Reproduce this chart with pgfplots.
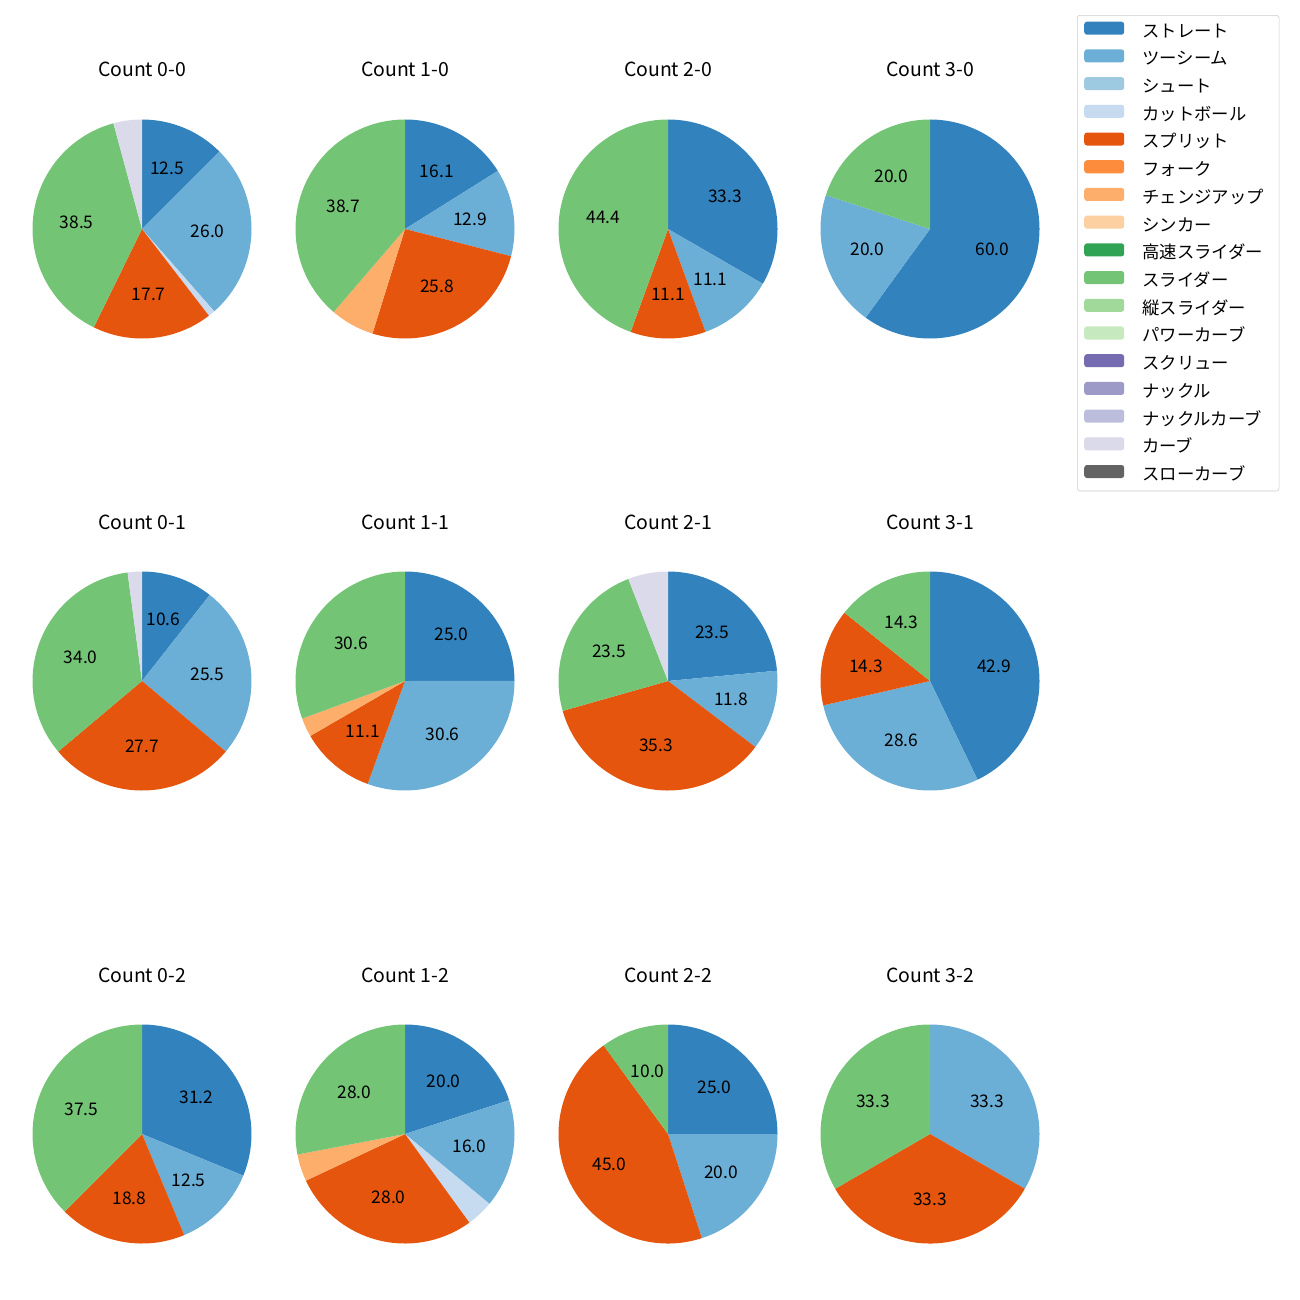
\documentclass[border=0pt]{standalone}
\usepackage{pgfplots}
\pgfplotsset{compat=1.18}
\usepackage{pgfplotstable}
\usepackage{fontspec}
\setmainfont{Noto Sans CJK JP}

% tab20c
\definecolor{c1}{HTML}{3182BD}
\definecolor{c2}{HTML}{6BAED6}
\definecolor{c3}{HTML}{9ECAE1}
\definecolor{c4}{HTML}{C6DBEF}
\definecolor{c5}{HTML}{E6550D}
\definecolor{c6}{HTML}{FD8D3C}
\definecolor{c7}{HTML}{FDAE6B}
\definecolor{c8}{HTML}{FDD0A2}
\definecolor{c9}{HTML}{31A354}
\definecolor{c10}{HTML}{74C476}
\definecolor{c11}{HTML}{A1D99B}
\definecolor{c12}{HTML}{C7E9C0}
\definecolor{c13}{HTML}{756BB1}
\definecolor{c14}{HTML}{9E9AC8}
\definecolor{c15}{HTML}{BCBDDC}
\definecolor{c16}{HTML}{DADAEB}
\definecolor{c17}{HTML}{636363}

% share (%) per count, rows 0-0 ... 3-2
\pgfplotstableread{
FF   TS   CT  SP   CH  SL   CU
12.5 26.0 1.0 17.7 0   38.5 4.2
16.1 12.9 0   25.8 6.5 38.7 0
33.3 11.1 0   11.1 0   44.4 0
60.0 20.0 0   0    0   20.0 0
10.6 25.5 0   27.7 0   34.0 2.1
25.0 30.6 0   11.1 2.8 30.6 0
23.5 11.8 0   35.3 0   23.5 5.9
42.9 28.6 0   14.3 0   14.3 0
31.2 12.5 0   18.8 0   37.5 0
20.0 16.0 4.0 28.0 4.0 28.0 0
25.0 20.0 0   45.0 0   10.0 0
0    33.3 0   33.3 0   33.3 0
}\counts

\def\pielist{FF/c1,TS/c2,CT/c4,SP/c5,CH/c7,SL/c10,CU/c16}

% #1 row, #2 centre x (px), #3 centre y (px), #4 title
\newcommand\pie[4]{%
\node[anchor=base, font=\fontsize{14pt}{16pt}\selectfont] at ({#2*0.72pt},{-(#3-152)*0.72pt}) {#4};
\begin{axis}[
  at={({#2*0.72pt},{-#3*0.72pt})}, anchor=center,
  scale only axis, width=157.68pt, height=157.68pt,
  xmin=-1, xmax=1, ymin=-1, ymax=1, hide axis]
\pgfplotsextra{
  \xdef\tot{0}
  \foreach \col/\c in \pielist {
    \pgfplotstablegetelem{#1}{\col}\of\counts
    \pgfmathsetmacro\n{\tot+\pgfplotsretval}\xdef\tot{\n}
  }
  \xdef\cum{0}
  \foreach \col/\c in \pielist {
    \pgfplotstablegetelem{#1}{\col}\of\counts
    \let\v\pgfplotsretval
    \pgfmathsetmacro\a{90-(\cum/\tot)*360}
    \pgfmathsetmacro\b{90-((\cum+\v)/\tot)*360}
    \ifdim\v pt>0pt
      \fill[\c] (axis cs:0,0) -- (axis cs:{cos(\a)},{sin(\a)})
        arc[start angle=\a, end angle=\b, radius=78.84pt] -- cycle;
    \fi
    \pgfmathsetmacro\n{\cum+\v}\xdef\cum{\n}
  }
  \xdef\cum{0}
  \foreach \col/\c in \pielist {
    \pgfplotstablegetelem{#1}{\col}\of\counts
    \let\v\pgfplotsretval
    \pgfmathsetmacro\m{90-((\cum+\v/2)/\tot)*360}
    \ifdim\v pt>9.9pt
      \node[font=\fontsize{12.5pt}{14pt}\selectfont] at (axis cs:{0.6*cos(\m)},{0.6*sin(\m)})
        {\pgfmathprintnumber[fixed,fixed zerofill,precision=1,assume math mode=true]{\v}};
    \fi
    \pgfmathsetmacro\n{\cum+\v}\xdef\cum{\n}
  }
}
\end{axis}
}

\begin{document}
\begin{tikzpicture}
\path[use as bounding box] (0,0) rectangle (936pt,-936pt);

\pie{0}{142}{229}{Count 0-0}
\pie{1}{405}{229}{Count 1-0}
\pie{2}{668}{229}{Count 2-0}
\pie{3}{930}{229}{Count 3-0}
\pie{4}{142}{681}{Count 0-1}
\pie{5}{405}{681}{Count 1-1}
\pie{6}{668}{681}{Count 2-1}
\pie{7}{930}{681}{Count 3-1}
\pie{8}{142}{1134}{Count 0-2}
\pie{9}{405}{1134}{Count 1-2}
\pie{10}{668}{1134}{Count 2-2}
\pie{11}{930}{1134}{Count 3-2}

% legend
\begin{axis}[
  at={({1077*0.72pt},{-15*0.72pt})}, anchor=north west,
  scale only axis, width=10pt, height=10pt,
  xmin=0, xmax=1, ymin=0, ymax=1, hide axis,
  legend image code/.code={\fill[#1, draw=none] (0pt,-1.3pt) rectangle (28.8pt,8.1pt);},
  legend cell align=left,
  legend style={at={(0,1)}, anchor=north west, draw=black!20, rounded corners=2pt,
    fill=white, inner xsep=5pt, inner ysep=4.6pt, row sep=5.85pt, column sep=7pt,
    font=\fontsize{12.5pt}{14pt}\selectfont,
    nodes={inner sep=0pt, text height=9pt, text depth=3pt, inner xsep=6pt}},
]
\addlegendimage{fill=c1, draw=none}\addlegendentry{ストレート}
\addlegendimage{fill=c2, draw=none}\addlegendentry{ツーシーム}
\addlegendimage{fill=c3, draw=none}\addlegendentry{シュート}
\addlegendimage{fill=c4, draw=none}\addlegendentry{カットボール}
\addlegendimage{fill=c5, draw=none}\addlegendentry{スプリット}
\addlegendimage{fill=c6, draw=none}\addlegendentry{フォーク}
\addlegendimage{fill=c7, draw=none}\addlegendentry{チェンジアップ}
\addlegendimage{fill=c8, draw=none}\addlegendentry{シンカー}
\addlegendimage{fill=c9, draw=none}\addlegendentry{高速スライダー}
\addlegendimage{fill=c10, draw=none}\addlegendentry{スライダー}
\addlegendimage{fill=c11, draw=none}\addlegendentry{縦スライダー}
\addlegendimage{fill=c12, draw=none}\addlegendentry{パワーカーブ}
\addlegendimage{fill=c13, draw=none}\addlegendentry{スクリュー}
\addlegendimage{fill=c14, draw=none}\addlegendentry{ナックル}
\addlegendimage{fill=c15, draw=none}\addlegendentry{ナックルカーブ}
\addlegendimage{fill=c16, draw=none}\addlegendentry{カーブ}
\addlegendimage{fill=c17, draw=none}\addlegendentry{スローカーブ}
\end{axis}
\end{tikzpicture}
\end{document}
